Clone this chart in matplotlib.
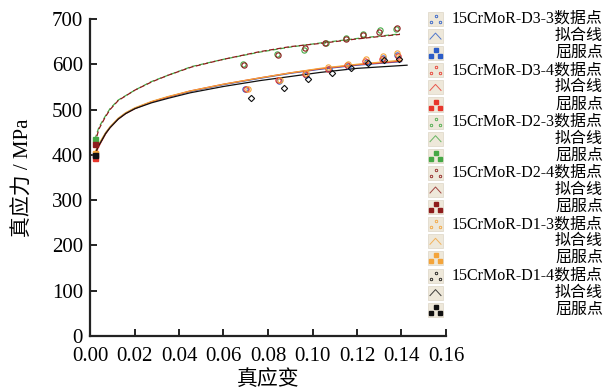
import matplotlib
matplotlib.use("Agg")
import matplotlib.pyplot as plt
from matplotlib.patches import Rectangle
from matplotlib.lines import Line2D

plt.rcParams['font.family'] = ['Liberation Serif', 'Noto Sans CJK SC']
plt.rcParams['axes.unicode_minus'] = False

# 试样名称与颜色
names = ['15CrMoR-D3-3', '15CrMoR-D3-4', '15CrMoR-D2-3',
         '15CrMoR-D2-4', '15CrMoR-D1-3', '15CrMoR-D1-4']
colors = ['#2b5cc8', '#e8362c', '#45a845', '#8e1c1c', '#f4a43a', '#111111']
markers = ['o', 'o', 'o', 'o', 'o', 'D']
dashed = [False, False, True, True, False, False]

# 屈服点
yield_x = [0.0022, 0.0022, 0.0022, 0.0022, 0.0022, 0.0022]
yield_y = [401, 392, 434, 425, 405, 400]

# 数据点
pts_x = [
    [0.0697, 0.0849, 0.0973, 0.1074, 0.1161, 0.1243, 0.1318, 0.1382],
    [0.0703, 0.0846, 0.0968, 0.1068, 0.1156, 0.1238, 0.1312, 0.1386],
    [0.0689, 0.0842, 0.0962, 0.1060, 0.1149, 0.1228, 0.1303, 0.1375],
    [0.0692, 0.0845, 0.0965, 0.1056, 0.1152, 0.1225, 0.1298, 0.1378],
    [0.0712, 0.0852, 0.0970, 0.1070, 0.1158, 0.1240, 0.1315, 0.1380],
    [0.0722, 0.0873, 0.0978, 0.1089, 0.1175, 0.1250, 0.1322, 0.1390],
]
pts_y = [
    [545, 563, 576, 589, 596, 606, 613, 620],
    [546, 565, 578, 590, 598, 608, 611, 618],
    [600, 622, 631, 648, 657, 666, 676, 679],
    [598, 620, 636, 646, 655, 664, 671, 681],
    [545, 566, 580, 593, 601, 611, 618, 625],
    [525, 547, 567, 581, 591, 603, 609, 612],
]

# 拟合线
low_x = [0.0022, 0.0035, 0.0053, 0.007, 0.009, 0.0127, 0.016, 0.0202, 0.0277,
         0.0352, 0.045, 0.06, 0.0764, 0.09, 0.1034, 0.12, 0.14]
blk_x = [0.0022, 0.0035, 0.0053, 0.007, 0.009, 0.0127, 0.016, 0.0202, 0.0277,
         0.0352, 0.045, 0.06, 0.0764, 0.09, 0.1034, 0.12, 0.1425]
up_x = [0.0022, 0.004, 0.0067, 0.009, 0.0127, 0.0202, 0.0277, 0.0352, 0.0457,
        0.06, 0.0764, 0.09, 0.1034, 0.12, 0.1393]
fit_x = [low_x, low_x, up_x, up_x, low_x, blk_x]
fit_y = [
    [401, 418, 433, 448, 461, 480, 492, 503, 517, 528, 540, 555, 569, 580, 589, 598, 606],
    [392, 414, 431, 446, 460, 479, 491, 502, 517, 528, 541, 556, 570, 581, 590, 599, 607],
    [434, 461, 484, 502, 521, 543, 562, 576, 595, 611, 627, 638, 647, 657, 667],
    [425, 457, 482, 500, 520, 543, 561, 576, 594, 611, 628, 639, 646, 656, 666],
    [405, 420, 435, 449, 462, 481, 493, 504, 518, 529, 541, 556, 570, 581, 591, 600, 609],
    [400, 417, 432, 447, 460, 479, 491, 502, 515, 525, 537, 551, 564, 573, 582, 591, 598],
]

W, H = 605, 389
fig = plt.figure(figsize=(W / 100, H / 100), dpi=100)
ax = fig.add_axes([90 / W, 53 / H, 356 / W, 317 / H])

for i in range(6):
    ls = (0, (4, 2)) if dashed[i] else '-'
    ax.plot(fit_x[i], fit_y[i], color=colors[i], lw=0.9, ls=ls, zorder=2)
    ax.plot(pts_x[i], pts_y[i], ls='none', marker=markers[i], ms=3.8 if markers[i] == 'o' else 3.2,
            mfc='none', mec=colors[i], mew=0.8, zorder=3)
    ax.plot(yield_x[i], yield_y[i], ls='none', marker='s', ms=3.6,
            color=colors[i], zorder=4)

ax.set_xlim(0, 0.16)
ax.set_ylim(0, 700)
ax.set_xticks([0.00, 0.02, 0.04, 0.06, 0.08, 0.10, 0.12, 0.14, 0.16])
ax.set_xticklabels(['%.2f' % v for v in ax.get_xticks()])
ax.set_yticks(range(0, 701, 100))
for s in ['top', 'right']:
    ax.spines[s].set_visible(False)
for s in ['left', 'bottom']:
    ax.spines[s].set_linewidth(1.6)
    ax.spines[s].set_color('#222222')
ax.tick_params(direction='in', length=5, width=1.4, labelsize=15, colors='#222222',
               labelcolor='black')
ax.tick_params(axis='x', pad=8)
ax.tick_params(axis='y', pad=5)
ax.set_xlabel('真应变', fontsize=15, labelpad=3)
ax.set_ylabel('真应力 / MPa', fontsize=15, labelpad=13)


# 图例（手工绘制，文字右对齐）
def fx(px):
    return px / W


def fy(py):
    return 1 - py / H


row_h = 17.1
row0 = 19.0
for i in range(6):
    labels = [names[i] + '数据点', '拟合线', '屈服点']
    for k in range(3):
        r = i * 3 + k
        yc = row0 + r * row_h
        fig.text(fx(603), fy(yc), labels[k], ha='right', va='center', fontsize=11.5)
        x0, x1 = 428, 443
        y0, y1 = yc - 7, yc + 7
        fig.add_artist(Rectangle((fx(x0), fy(y1)), fx(x1 - x0), (y1 - y0) / H,
                                 transform=fig.transFigure, facecolor='#eee8da',
                                 edgecolor='#ddd6c6', lw=0.5))
        if k == 0:
            fig.add_artist(Line2D([fx(431), fx(436), fx(440)], [fy(yc + 3), fy(yc - 3), fy(yc + 3)],
                                  transform=fig.transFigure, ls='none', marker='o', ms=1.8,
                                  mfc='none', mec=colors[i], mew=0.6))
        elif k == 1:
            fig.add_artist(Line2D([fx(430), fx(435.5), fx(441)], [fy(yc + 3), fy(yc - 3), fy(yc + 3)],
                                  transform=fig.transFigure, color=colors[i], lw=0.7, alpha=0.8))
        else:
            fig.add_artist(Line2D([fx(431), fx(435.5), fx(440)], [fy(yc + 3), fy(yc - 3), fy(yc + 3)],
                                  transform=fig.transFigure, ls='none', marker='s', ms=2.2,
                                  color=colors[i]))

fig.savefig('out.png', dpi=100)
